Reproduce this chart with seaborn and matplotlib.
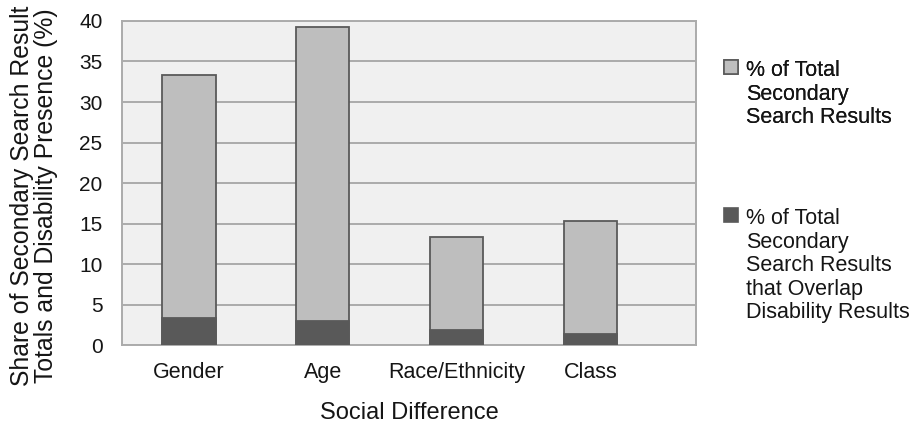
import matplotlib
matplotlib.use("Agg")
import matplotlib.pyplot as plt
import matplotlib.patches as mpatches
import seaborn as sns
import pandas as pd

categories = ["Gender", "Age", "Race/Ethnicity", "Class"]
total_share = [33.3, 39.3, 13.3, 15.3]
overlap_share = [3.3, 3.0, 1.9, 1.3]
yticks = [0, 5, 10, 15, 20, 25, 30, 35, 40]
series_labels = [
    "% of Total\nSecondary\nSearch Results",
    "% of Total\nSecondary\nSearch Results\nthat Overlap\nDisability Results",
]

LIGHT = "#bebebe"
DARK = "#595959"
EDGE = "#5a5a5a"
TEXT = "#151515"

sns.set_theme(style="white")
plt.rcParams["font.family"] = ["Liberation Sans", "DejaVu Sans"]

df = pd.DataFrame({"cat": categories, "total": total_share, "overlap": overlap_share})

fig = plt.figure(figsize=(9.09, 4.25), dpi=100)
ax = fig.add_axes([0.1342, 0.1882, 0.6315, 0.7624])
ax.set_facecolor("#f0f0f0")

sns.barplot(data=df, x="cat", y="total", color=LIGHT, width=0.40, saturation=1,
            edgecolor=EDGE, linewidth=1.3, ax=ax, zorder=3)
sns.barplot(data=df, x="cat", y="overlap", color=DARK, width=0.40, saturation=1,
            edgecolor=EDGE, linewidth=1.3, ax=ax, zorder=4)

ax.set_ylim(0, 40)
ax.set_xlim(-0.5, 3.79)
ax.set_yticks(yticks)
ax.set_yticklabels([str(v) for v in yticks])
ax.yaxis.grid(True, color="#ababab", linewidth=1.4, zorder=0)
ax.set_axisbelow(True)
for s in ax.spines.values():
    s.set_color("#ababab")
    s.set_linewidth(1.4)
ax.tick_params(axis="both", length=0, colors=TEXT)
ax.tick_params(axis="y", labelsize=15, pad=14)
ax.tick_params(axis="x", labelsize=15.5, pad=12)

ax.set_xlabel("Social Difference", fontsize=17, color=TEXT, labelpad=14)
ax.set_ylabel("Share of Secondary Search Result\nTotals and Disability Presence (%)",
              fontsize=17.8, color=TEXT, linespacing=1.02)
ax.yaxis.set_label_coords(-0.111, 0.462)


def add_entry(label, color, ytop):
    h = mpatches.Patch(facecolor=color, edgecolor=EDGE, linewidth=1.2)
    leg = fig.legend(handles=[h], labels=[label], loc="upper left",
                     bbox_to_anchor=(0.797, ytop), frameon=False,
                     fontsize=15.5, handlelength=0.65, handleheight=0.65,
                     handletextpad=0.35, borderpad=0, borderaxespad=0)
    for col in leg._legend_handle_box.get_children():
        for item in col.get_children():
            item.align = "top"
    for t in leg.get_texts():
        t.set_color(TEXT)
        t.set_linespacing(1.16)
    return leg


l1 = add_entry(series_labels[0], LIGHT, 1 - 60 / 425)
add_entry(series_labels[1], DARK, 1 - 208 / 425)
fig.add_artist(l1)

fig.savefig("out.png", dpi=100)
